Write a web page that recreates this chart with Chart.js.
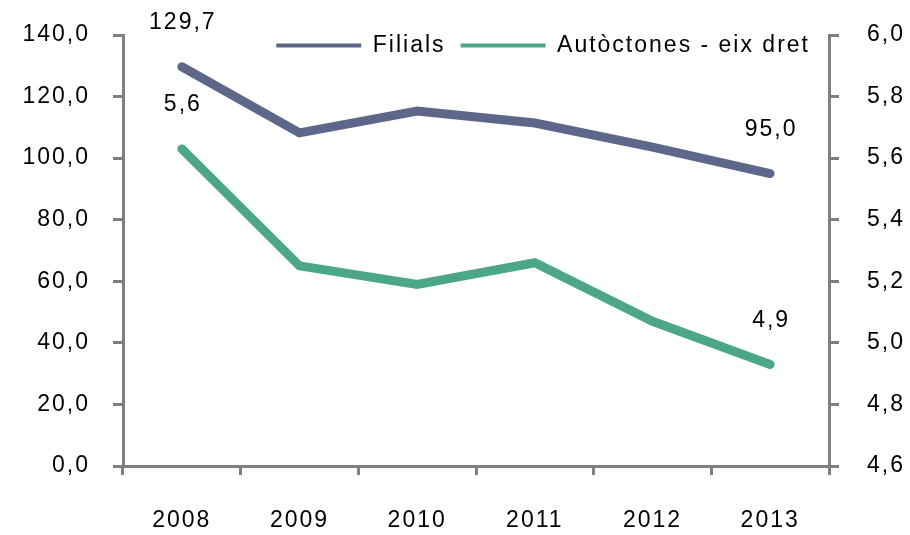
<!DOCTYPE html>
<html lang="ca">
<head>
<meta charset="UTF-8">
<title>Filials i autòctones</title>
<script src="https://cdn.jsdelivr.net/npm/chart.js"></script>
<style>
  body { margin: 0; background: #fff; }
  #wrap { width: 910px; height: 535px; }
</style>
</head>
<body>
<div id="wrap"><canvas id="grafic"></canvas></div>
<script>
// Dades llegides del gràfic
const anys = ['2008', '2009', '2010', '2011', '2012', '2013'];
const filials = [129.7, 108.2, 115.3, 111.4, 103.6, 95.0];
const autoctones = [5.63, 5.25, 5.19, 5.26, 5.07, 4.93];

const gris = '#7f7f7f';
const font = '"Liberation Sans", Arial, sans-serif';
const espaiat = '2px';

// format amb coma decimal
function coma(v, dec) {
    return Number(v).toFixed(dec).replace('.', ',');
}

// lletra una mica més ampla, com a l'original
const espaiLletra = {
    id: 'espaiLletra',
    beforeLayout(chart) { chart.ctx.letterSpacing = espaiat; },
    beforeDraw(chart) { chart.ctx.letterSpacing = espaiat; }
};

// etiquetes al primer i últim punt de cada sèrie
const etiquetes = {
    id: 'etiquetes',
    afterDatasetsDraw(chart) {
        const ctx = chart.ctx;
        ctx.save();
        ctx.font = '23px ' + font;
        ctx.fillStyle = '#000';
        ctx.textAlign = 'center';
        ctx.textBaseline = 'middle';
        chart.data.datasets.forEach((ds, i) => {
            const meta = chart.getDatasetMeta(i);
            [0, ds.data.length - 1].forEach(j => {
                const p = meta.data[j];
                ctx.fillText(coma(ds.data[j], 1), p.x + 1, p.y - 44);
            });
        });
        ctx.restore();
    }
};

// la llegenda no ocupa lloc: es dibuixa dins l'àrea del gràfic
const llegendaDins = {
    id: 'llegendaDins',
    afterLayout(chart) {
        const l = chart.legend;
        const a = chart.chartArea;
        l.left = a.left;
        l.right = a.right - 4;
        l.top = 19;
        l.bottom = 80;
    }
};

// eixos verticals: amplada fixa i sense marge extra a dalt/baix
function fixaEix(amplada) {
    return function (s) {
        s.width = amplada;
        s.paddingTop = 0;
        s.paddingBottom = 0;
    };
}

Chart.defaults.font.family = font;
Chart.defaults.font.size = 23;
Chart.defaults.color = '#000';

new Chart(document.getElementById('grafic'), {
    type: 'line',
    data: {
        labels: anys,
        datasets: [
            {
                label: 'Filials',
                data: filials,
                yAxisID: 'y',
                borderColor: '#5d6789',
                backgroundColor: '#5d6789',
                borderWidth: 9,
                borderCapStyle: 'round',
                pointRadius: 0,
                tension: 0
            },
            {
                label: 'Autòctones - eix dret',
                data: autoctones,
                yAxisID: 'y2',
                borderColor: '#4ba785',
                backgroundColor: '#4ba785',
                borderWidth: 9,
                borderCapStyle: 'round',
                pointRadius: 0,
                tension: 0
            }
        ]
    },
    options: {
        responsive: true,
        maintainAspectRatio: false,
        animation: false,
        layout: { padding: 0 },
        plugins: {
            tooltip: { enabled: false },
            legend: {
                position: 'top',
                align: 'end',
                maxHeight: 35,
                labels: {
                    boxWidth: 85,
                    boxHeight: 4,
                    padding: 15,
                    color: '#000',
                    generateLabels(chart) {
                        return chart.data.datasets.map((ds, i) => ({
                            text: ds.label,
                            fillStyle: ds.borderColor,
                            strokeStyle: ds.borderColor,
                            lineWidth: 0,
                            hidden: false,
                            datasetIndex: i,
                            fontColor: '#000'
                        }));
                    }
                }
            }
        },
        scales: {
            x: {
                offset: true,
                grid: { offset: true, drawOnChartArea: false, color: gris, lineWidth: 3, tickLength: 9 },
                border: { color: gris, width: 3 },
                ticks: { padding: 32, maxRotation: 0 },
                afterFit(s) { s.height = 69; }
            },
            y: {
                position: 'left',
                min: 0,
                max: 140,
                grid: { drawOnChartArea: false, color: gris, lineWidth: 3, tickLength: 10 },
                border: { color: gris, width: 3 },
                ticks: { stepSize: 20, padding: 23, callback: v => coma(v, 1) },
                afterFit: fixaEix(123)
            },
            y2: {
                position: 'right',
                min: 4.6,
                max: 6.0,
                grid: { drawOnChartArea: false, color: gris, lineWidth: 3, tickLength: 10 },
                border: { color: gris, width: 3 },
                ticks: { stepSize: 0.2, padding: 28, callback: v => coma(v, 1) },
                afterFit: fixaEix(81)
            }
        }
    },
    plugins: [espaiLletra, etiquetes, llegendaDins]
});
</script>
</body>
</html>
